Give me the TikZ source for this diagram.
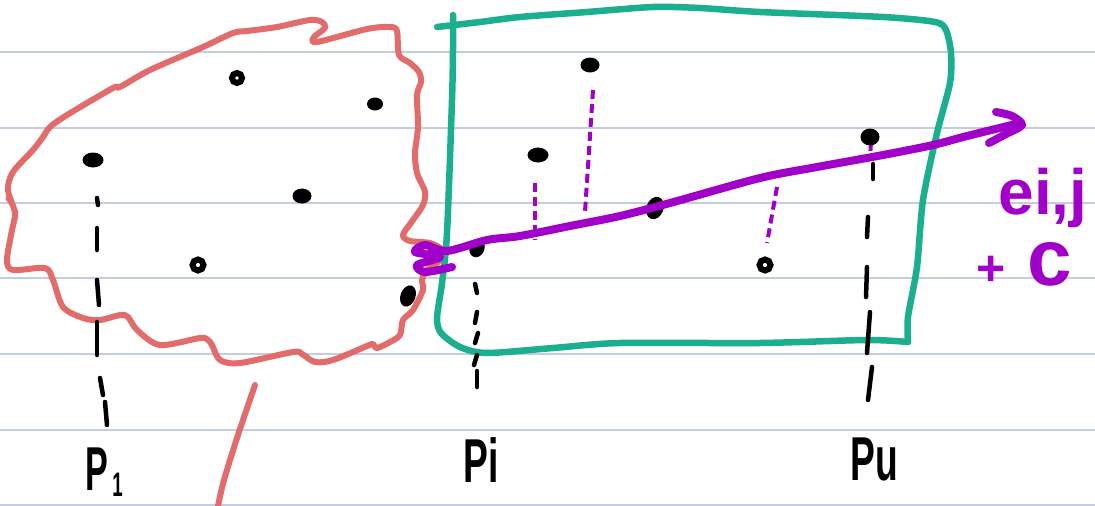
\documentclass[tikz,border=0pt]{standalone}
\usepackage{fontspec}
\setmainfont{Liberation Sans}
\usetikzlibrary{shapes.geometric}
\definecolor{rulec}{HTML}{C3CDDD}
\definecolor{blobred}{HTML}{E26C6C}
\definecolor{boxteal}{HTML}{1BAF8F}
\definecolor{purp}{HTML}{A000C8}
\begin{document}
\begin{tikzpicture}[x=1pt,y=-1pt,
  ruled/.style={rulec,line width=1.8pt},
  redline/.style={blobred,line width=6pt,line cap=round,line join=round},
  tealline/.style={boxteal,line width=6.5pt,line cap=round,line join=round},
  purpline/.style={purp,line width=8pt,line cap=round,line join=round},
  pdash/.style={purp,line width=4pt,dash pattern=on 9pt off 5pt},
  bdash/.style={black,line width=4.5pt,line cap=round},
  dot/.style={ellipse,fill=black,inner sep=0pt,minimum width=19pt,minimum height=15pt},
  ring/.style={circle,draw=black,fill=white,line width=6pt,inner sep=0pt,minimum size=11pt},
  lbl/.style={black,inner sep=0pt,font=\bfseries\fontsize{62}{62}\selectfont},
  plbl/.style={purp,inner sep=0pt,font=\bfseries\fontsize{64}{64}\selectfont}]
\useasboundingbox (0,0) rectangle (1095,506);
\fill[white] (0,0) rectangle (1095,506);
\foreach \yy in {52,128,203,278,354,430,505} \draw[ruled] (0,\yy) -- (1095,\yy);

% red blob
\draw[redline] plot[smooth cycle,tension=0.5] coordinates {
 (50,127) (67,115) (113,88) (120,87) (150,70) (203,47) (233,33) (247,31) (277,27)
 (310,20) (322,22) (325,28) (314,37) (317,42) (367,29) (390,27) (397,31) (399,55)
 (410,63) (419,72) (421,82) (417,95) (418,127) (415,153) (417,173) (425,192) (423,205)
 (413,220) (403,235) (410,241) (430,243) (442,250) (438,262) (427,270) (422,280)
 (423,290) (413,310) (403,320) (400,335) (390,342) (377,348) (373,344) (367,346)
 (333,360) (315,362) (302,354) (293,352) (240,363) (220,360) (212,345) (208,340)
 (200,338) (160,345) (137,330) (125,315) (100,320) (83,318) (63,307) (53,280)
 (45,268) (13,270) (7,260) (12,230) (15,213) (8,190) (13,172) (33,150) (43,137)};
\draw[redline,line width=3.5pt] (7,198) -- (17,213);
\draw[redline] plot[smooth,tension=0.5] coordinates {(255,385) (238,435) (224,480) (218,506)};

% teal box
\draw[tealline] plot[smooth,tension=0.45] coordinates {
 (437,27) (480,22) (520,17) (587,12) (653,7) (700,8) (760,12) (883,17) (935,22)
 (946,30) (951,53) (950,83) (937,133) (923,200) (917,267) (908,317) (908,342)};
\draw[tealline] plot[smooth,tension=0.45] coordinates {
 (908,342) (867,340) (760,343) (620,343) (553,348) (487,353) (460,347) (441,333)
 (437,318) (442,283) (447,233) (452,100) (453,50) (453,15)};

% black vertical dashes
\draw[bdash] (97,198) -- (98,205);
\draw[bdash] (97,228) -- (97,250);
\draw[bdash] (97,280) -- (99,305);
\draw[bdash] (97,322) -- (97,355);
\draw[bdash] (100,378) -- (103,395);
\draw[bdash] (105,402) -- (107,425);
\draw[bdash] (475,284) -- (477,293);
\draw[bdash] (477,312) -- (475,323);
\draw[bdash] (478,333) -- (475,343);
\draw[bdash] (477,355) -- (474,365);
\draw[bdash] (477,371) -- (477,387);
\draw[bdash] (873,164) -- (873,179);
\draw[bdash] (868,217) -- (867,237);
\draw[bdash] (867,267) -- (866,297);
\draw[bdash] (870,312) -- (867,353);
\draw[bdash] (872,367) -- (868,400);

% purple dashed drops
\draw[pdash] (535,183) -- (535,240);
\draw[pdash] (593,90) -- (585,212);
\draw[pdash] (777,187) -- (767,243);
\draw[pdash] (871,142) -- (870,158);

% dots
\node[ring,minimum size=10pt] (a1) at (237,78) {};
\node[dot,minimum width=16pt,minimum height=13pt] (a2) at (375,104) {};
\node[dot,minimum width=21pt] (a3) at (93,160) {};
\node[dot] (a4) at (302,196) {};
\node[ring] (a5) at (198,265) {};
\node[dot,rotate=70,minimum width=22pt] (a6) at (408,296) {};
\node[dot] (b1) at (590,65) {};
\node[dot,minimum width=21pt] (b2) at (538,155) {};
\node[dot,rotate=70,minimum width=23pt,minimum height=17pt] (b3) at (655,208) {};
\node[dot,rotate=70] (b4) at (477,248) {};
\node[ring] (b5) at (765,265) {};
\node[dot,minimum height=17pt] (b6) at (870,137) {};

% purple arrow
\draw[purpline] plot[smooth,tension=0.5] coordinates {
 (452,267) (425,272) (417,265) (440,257) (415,252) (425,245) (447,251)
 (487,240) (520,236) (570,226) (620,216) (670,203) (760,178) (817,167) (883,155)
 (933,145) (967,136) (1020,123)};
\draw[purpline] plot[smooth,tension=0.5] coordinates {(996,112) (1012,116) (1022,125) (1006,134) (989,143)};

% labels
\node[lbl] (p1) at (104,472) {\scalebox{0.55}[1]{P\hspace{8pt}\raisebox{-6pt}{\fontsize{34}{34}\selectfont 1}}};
\node[lbl] (pi) at (481,460) {\scalebox{0.6}[1]{Pi}};
\node[lbl] (pn) at (874,459) {\scalebox{0.6}[1]{Pu}};
\node[plbl] (eij) at (1043,198) {ei,j};
\node[plbl,anchor=base west] (pc) at (976,285) {{\fontsize{50}{50}\selectfont +}\hspace{22pt}{\fontsize{80}{80}\selectfont c}};
\end{tikzpicture}
\end{document}
